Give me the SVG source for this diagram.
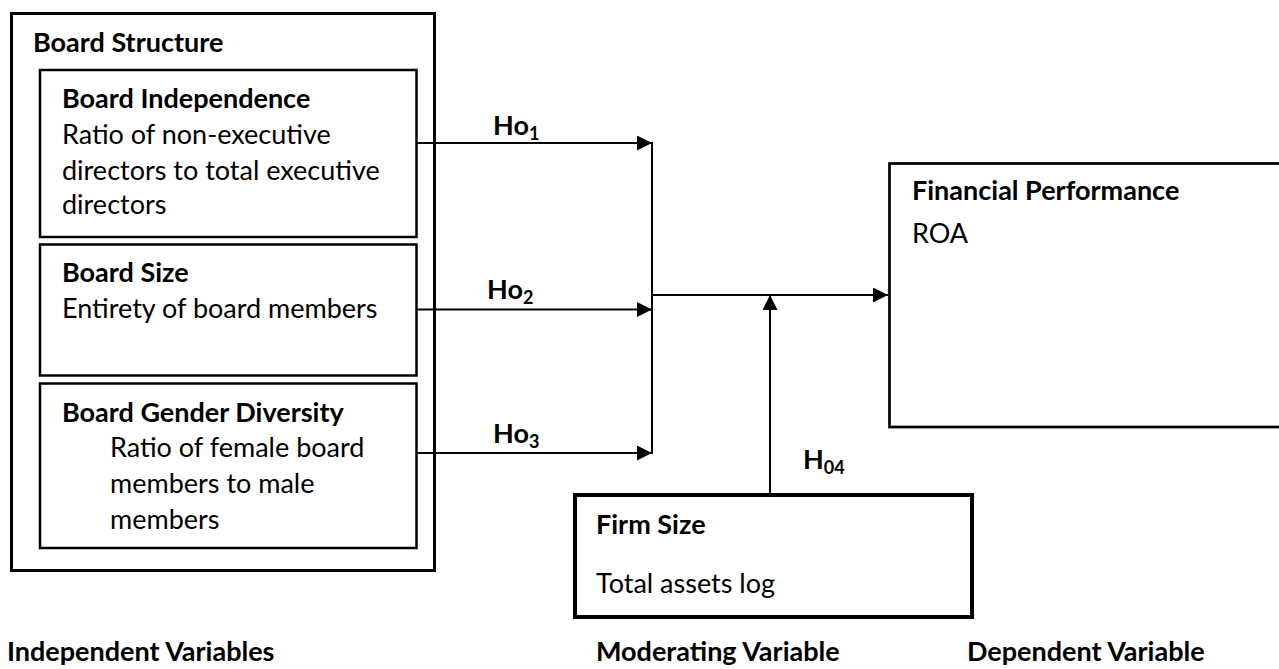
<svg xmlns="http://www.w3.org/2000/svg" width="1279" height="669" viewBox="0 0 1279 669">
<style>
  text { font-family: Lato, "Open Sans", "Liberation Sans", sans-serif; font-size: 27px; fill: #000; }
  .b { font-weight: bold; }
  .sub { font-size: 18px; }
  .box { fill: #fff; stroke: #000; }
  .conn { stroke: #000; stroke-width: 2; fill: none; }
</style>
<defs>
  <marker id="arr" viewBox="0 0 15 15" refX="15" refY="7.5" markerWidth="15" markerHeight="15" markerUnits="userSpaceOnUse" orient="auto">
    <path d="M0,0 L15,7.5 L0,15 z" fill="#000"/>
  </marker>
</defs>
<rect width="1279" height="669" fill="#fff"/>

<g id="board-structure">
  <rect class="box" x="11.5" y="13.5" width="423" height="557" stroke-width="3"/>
  <text class="b" x="33" y="52">Board Structure</text>
</g>

<g id="board-independence">
  <rect class="box" x="40" y="70" width="376.5" height="167" stroke-width="2.5"/>
  <text class="b" x="62" y="108">Board Independence</text>
  <text x="62" y="144">Ratio of non-executive</text>
  <text x="62" y="180">directors to total executive</text>
  <text x="62" y="214">directors</text>
</g>

<g id="board-size">
  <rect class="box" x="40" y="244.5" width="376.5" height="131" stroke-width="2.5"/>
  <text class="b" x="62" y="282">Board Size</text>
  <text x="62" y="318">Entirety of board members</text>
</g>

<g id="board-gender-diversity">
  <rect class="box" x="40" y="383.5" width="376.5" height="164.5" stroke-width="2.5"/>
  <text class="b" x="62" y="422">Board Gender Diversity</text>
  <text x="110" y="457">Ratio of female board</text>
  <text x="110" y="493">members to male</text>
  <text x="110" y="529">members</text>
</g>

<g id="financial-performance">
  <rect class="box" x="889.5" y="163.5" width="400" height="263.5" stroke-width="2.7"/>
  <text class="b" x="912" y="200">Financial Performance</text>
  <text x="912" y="243">ROA</text>
</g>

<g id="firm-size">
  <rect class="box" x="575" y="495" width="397" height="122" stroke-width="4"/>
  <text class="b" x="596" y="534">Firm Size</text>
  <text x="596" y="593">Total assets log</text>
</g>

<g id="connectors">
  <line class="conn" x1="417" y1="143" x2="652" y2="143" marker-end="url(#arr)"/>
  <line class="conn" x1="417" y1="309.5" x2="652" y2="309.5" marker-end="url(#arr)"/>
  <line class="conn" x1="417" y1="453" x2="652" y2="453" marker-end="url(#arr)"/>
  <line class="conn" x1="652" y1="142" x2="652" y2="454"/>
  <line class="conn" x1="652" y1="295" x2="888" y2="295" marker-end="url(#arr)"/>
  <line class="conn" x1="770" y1="494" x2="770" y2="295" marker-end="url(#arr)"/>
</g>

<g id="labels">
  <text class="b" x="493" y="135">Ho<tspan class="sub" dy="5">1</tspan></text>
  <text class="b" x="487" y="299">Ho<tspan class="sub" dy="5">2</tspan></text>
  <text class="b" x="493" y="443">Ho<tspan class="sub" dy="5">3</tspan></text>
  <text class="b" x="803" y="469">H<tspan class="sub" dy="5">04</tspan></text>
  <text class="b" x="7" y="661">Independent Variables</text>
  <text class="b" x="596" y="661">Moderating Variable</text>
  <text class="b" x="967" y="661">Dependent Variable</text>
</g>
</svg>
